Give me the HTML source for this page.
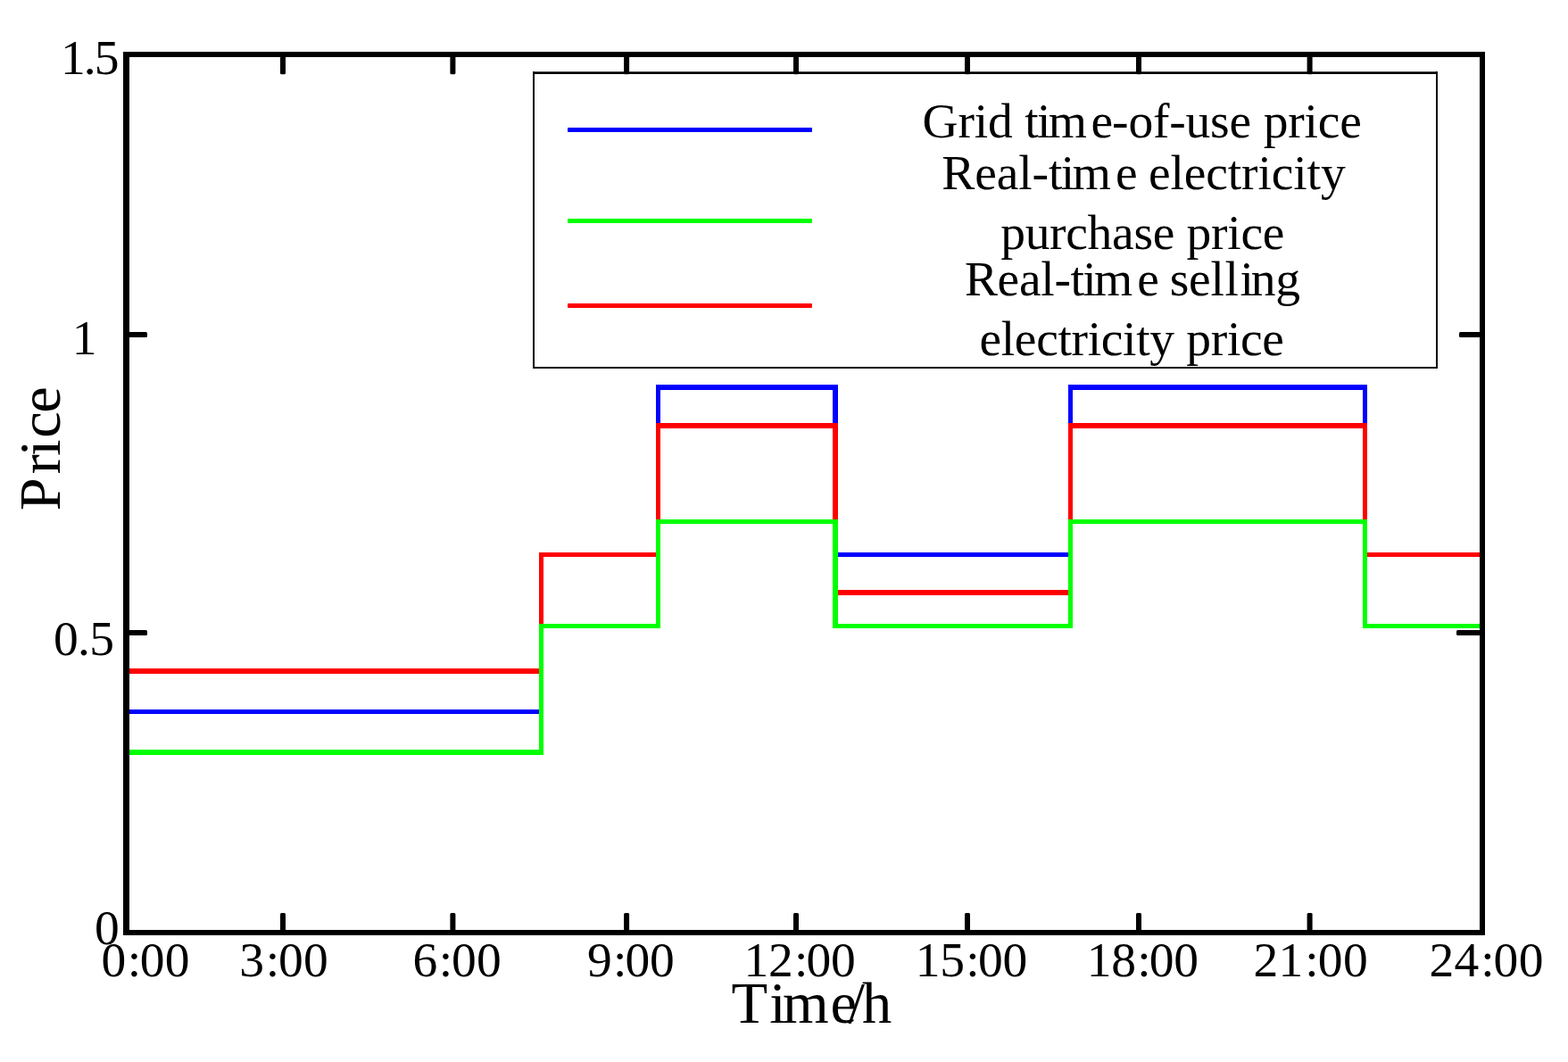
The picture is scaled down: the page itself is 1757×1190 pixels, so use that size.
<!DOCTYPE html>
<html>
<head>
<meta charset="utf-8">
<title>Price</title>
<style>
html,body{margin:0;padding:0;background:#fff;}
body{width:1757px;height:1190px;overflow:hidden;}
svg{display:block;}
text{font-family:"Liberation Serif",serif;fill:#000;}
.tk{font-size:55.5px;}
.ax{font-size:66.5px;}
.lg{font-size:55.5px;}
</style>
</head>
<body>
<svg width="1757" height="1190" viewBox="0 0 1757 1190">
<rect x="0" y="0" width="1757" height="1190" fill="#fff"/>
<g id="series" shape-rendering="crispEdges">
<g fill="#0000ff">
<rect x="144" y="795" width="465" height="5"/>
<rect x="604" y="619" width="5" height="181"/>
<rect x="604" y="619" width="136" height="5"/>
<rect x="735" y="431" width="5" height="193"/>
<rect x="735" y="431" width="204" height="6"/>
<rect x="933" y="431" width="6" height="193"/>
<rect x="933" y="619" width="269" height="5"/>
<rect x="1197" y="431" width="5" height="193"/>
<rect x="1197" y="431" width="335" height="6"/>
<rect x="1527" y="431" width="5" height="193"/>
<rect x="1527" y="619" width="132" height="5"/>
</g>
<g fill="#ff0000">
<rect x="144" y="749" width="465" height="6"/>
<rect x="604" y="619" width="5" height="136"/>
<rect x="604" y="619" width="136" height="5"/>
<rect x="735" y="474" width="5" height="150"/>
<rect x="735" y="474" width="204" height="6"/>
<rect x="933" y="474" width="6" height="193"/>
<rect x="933" y="661" width="269" height="6"/>
<rect x="1197" y="474" width="5" height="193"/>
<rect x="1197" y="474" width="335" height="6"/>
<rect x="1527" y="474" width="5" height="150"/>
<rect x="1527" y="619" width="132" height="5"/>
</g>
<g fill="#00ff00">
<rect x="144" y="840" width="465" height="6"/>
<rect x="604" y="699" width="5" height="147"/>
<rect x="604" y="699" width="136" height="5"/>
<rect x="735" y="582" width="5" height="122"/>
<rect x="735" y="582" width="204" height="5"/>
<rect x="933" y="582" width="6" height="122"/>
<rect x="933" y="699" width="269" height="5"/>
<rect x="1197" y="582" width="5" height="122"/>
<rect x="1197" y="582" width="335" height="5"/>
<rect x="1527" y="582" width="5" height="122"/>
<rect x="1527" y="699" width="132" height="5"/>
</g>
</g>
<g id="legend">
<rect x="598" y="81" width="1012" height="331" fill="#fff"/>
<g fill="#000">
<rect x="597" y="80.3" width="1014" height="2.7"/>
<rect x="597" y="411" width="1014" height="2"/>
<rect x="597" y="80.3" width="2" height="332.7"/>
<rect x="1609" y="80.3" width="2" height="332.7"/>
</g>
<rect x="636" y="143" width="274" height="5" rx="1" fill="#0000ff"/>
<rect x="636" y="245" width="274" height="5" rx="1" fill="#00ff00"/>
<rect x="636" y="340" width="274" height="5" rx="1" fill="#ff0000"/>
<g class="lg">
<text id="L1" x="1033.5 1073.4 1091.7 1106.9 1134.5 1148.2 1161.9 1174.7 1222.6 1246.1 1264.4 1292.0 1310.2 1328.5 1356.1 1377.5 1402.0 1415.7 1443.2 1461.5 1476.7 1501.2" y="153.5">Grid time-of-use price</text>
<text id="L2" x="1055.3 1092.2 1116.7 1141.2 1156.6 1174.9 1188.7 1201.7 1250.1 1273.1 1286.9 1311.4 1326.7 1351.2 1375.7 1391.1 1409.4 1424.7 1449.3 1464.6 1479.9" y="212">Real-time electricity</text>
<text id="L3" x="1121.2 1148.7 1176.1 1194.3 1218.6 1246.1 1270.4 1291.7 1316.0 1329.6 1357.1 1375.2 1390.4 1414.7" y="278.6">purchase price</text>
<text id="L4" x="1080.9 1117.6 1142.0 1166.3 1181.4 1199.6 1213.3 1226.1 1274.3 1297.1 1310.7 1332.0 1356.4 1372.5 1389.6 1401.7 1429.2" y="331">Real-time selling</text>
<text id="L5" x="1097.4 1121.7 1136.8 1161.2 1185.5 1200.6 1218.7 1233.8 1258.1 1273.2 1288.3 1315.7 1329.3 1356.7 1374.9 1390.0 1414.3" y="397.6">electricity price</text>
</g>
</g>
<g id="axes" fill="#000">
<rect x="138" y="58" width="7" height="990" rx="1"/>
<rect x="1658" y="58" width="6" height="990" rx="1"/>
<rect x="138" y="58" width="1526" height="6" rx="1"/>
<rect x="138" y="1042" width="1526" height="6" rx="1"/>
<rect x="314" y="1023" width="6" height="20" rx="1.5"/>
<rect x="314" y="63" width="6" height="20.3" rx="1.5"/>
<rect x="504.4" y="1023" width="6" height="20" rx="1.5"/>
<rect x="504.4" y="63" width="6" height="20.3" rx="1.5"/>
<rect x="699.1" y="1023" width="6" height="20" rx="1.5"/>
<rect x="699.1" y="63" width="6" height="20.3" rx="1.5"/>
<rect x="889" y="1023" width="6" height="20" rx="1.5"/>
<rect x="889" y="63" width="6" height="20.3" rx="1.5"/>
<rect x="1081" y="1023" width="6" height="20" rx="1.5"/>
<rect x="1081" y="63" width="6" height="20.3" rx="1.5"/>
<rect x="1273" y="1023" width="6" height="20" rx="1.5"/>
<rect x="1273" y="63" width="6" height="20.3" rx="1.5"/>
<rect x="1464.6" y="1023" width="6" height="20" rx="1.5"/>
<rect x="1464.6" y="63" width="6" height="20.3" rx="1.5"/>
<rect x="144" y="372" width="21" height="6" rx="1.5"/>
<rect x="1635" y="372" width="24" height="6" rx="1.5"/>
<rect x="144" y="706" width="21" height="6" rx="1.5"/>
<rect x="1632" y="706" width="27" height="6" rx="1.5"/>
</g>
<g class="tk">
<text x="113.5 142.8 156.8 184.7" y="1093.8">0:00</text>
<text x="268.2 297.8 311.9 340.0" y="1093.8">3:00</text>
<text x="462.4 491.8 505.9 533.9" y="1093.8">6:00</text>
<text x="658.0 686.9 700.5 727.9" y="1093.8">9:00</text>
<text x="833.6 861.1 890.0 903.6 931.1" y="1093.8">12:00</text>
<text x="1025.7 1053.2 1082.2 1095.9 1123.4" y="1093.8">15:00</text>
<text x="1217.7 1245.2 1274.2 1287.8 1315.3" y="1093.8">18:00</text>
<text x="1404.4 1432.6 1462.3 1476.7 1505.0" y="1093.8">21:00</text>
<text x="1601.4 1629.5 1659.2 1673.5 1701.7" y="1093.8">24:00</text>
<text x="68" y="83" textLength="65.5" lengthAdjust="spacing">1.5</text>
<text x="80.8" y="397.3">1</text>
<text x="60" y="734.2" textLength="68" lengthAdjust="spacing">0.5</text>
<text x="106" y="1057.5">0</text>
</g>
<g class="ax">
<text x="819.6 862.2 877 930.5 950.4 966" y="1146">Time/h</text>
<text transform="translate(67.2,0) rotate(-90)" x="-572.3 -531.3 -510.9 -490.8 -462.8" y="0">Price</text>
</g>
</svg>
</body>
</html>
